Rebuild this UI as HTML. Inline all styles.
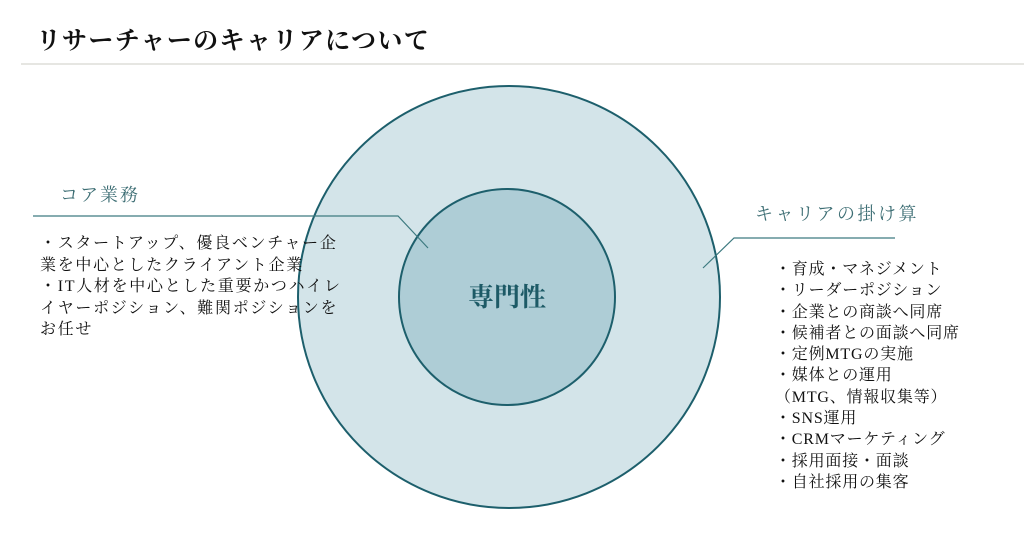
<!DOCTYPE html>
<html><head><meta charset="utf-8"><style>
body{margin:0;width:1024px;height:542px;background:#fff;position:relative;overflow:hidden;font-family:"Liberation Serif","Noto Serif CJK SC",serif;color:#111}
.t{position:absolute;white-space:nowrap}
</style></head><body>
<div class="t" style="left:36px;top:21px;font-size:25px;font-weight:bold;letter-spacing:1.4px">リサーチャーのキャリアについて</div>
<div style="position:absolute;left:21px;top:63px;width:1003px;height:2px;background:#e6e6e2"></div>
<svg width="1024" height="542" style="position:absolute;left:0;top:0">
<circle cx="509" cy="297" r="211" fill="#d3e4e9" stroke="#1d5f6c" stroke-width="2"/>
<circle cx="507" cy="297" r="108" fill="#aecdd6" stroke="#1d5f6c" stroke-width="2"/>
<polyline points="33,216 398,216 428,248" fill="none" stroke="#3d7a80" stroke-width="1.2"/>
<polyline points="703,268 734,238 895,238" fill="none" stroke="#3d7a80" stroke-width="1.2"/>
<text x="507" y="306" text-anchor="middle" font-size="26" font-weight="bold" fill="#1d5a66" font-family="Liberation Serif,Noto Serif CJK SC,serif">専門性</text>
</svg>
<div class="t" style="left:60px;top:181px;font-size:18px;color:#3d6e74;letter-spacing:2px">コア業務</div>
<div class="t" style="left:40px;top:233px;font-size:16px;line-height:21.5px;letter-spacing:1.7px">・スタートアップ、優良ベンチャー企<br>業を中心としたクライアント企業<br>・IT人材を中心とした重要かつハイレ<br>イヤーポジション、難関ポジションを<br>お任せ</div>
<div class="t" style="left:755px;top:200px;font-size:18px;color:#3d6e74;letter-spacing:2.5px">キャリアの掛け算</div>
<div class="t" style="left:775px;top:259px;font-size:16px;line-height:21.3px;letter-spacing:0.8px">・育成・マネジメント<br>・リーダーポジション<br>・企業との商談へ同席<br>・候補者との面談へ同席<br>・定例MTGの実施<br>・媒体との運用<br>（MTG、情報収集等）<br>・SNS運用<br>・CRMマーケティング<br>・採用面接・面談<br>・自社採用の集客</div>
</body></html>
